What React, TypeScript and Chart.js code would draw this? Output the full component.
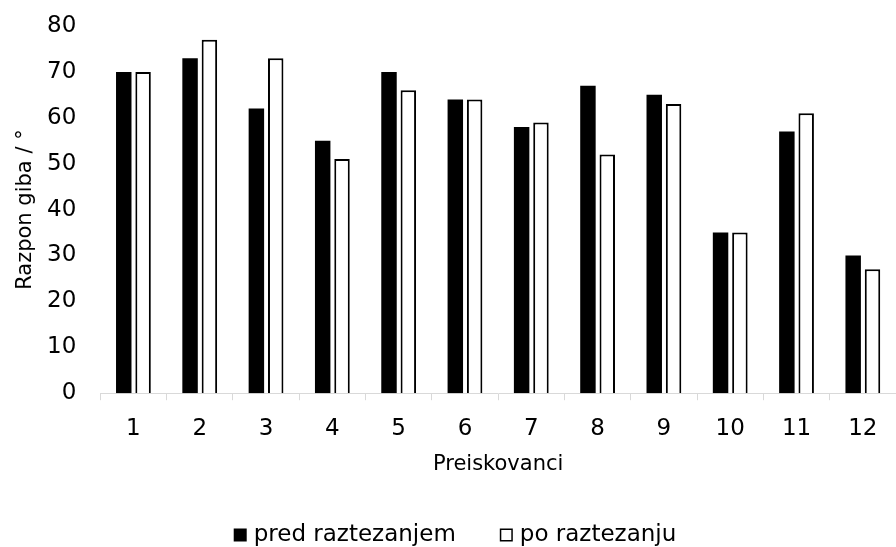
import React, { useEffect, useRef } from "react";
import { Chart, registerables } from "chart.js";

Chart.register(...registerables);

const categories = ["1", "2", "3", "4", "5", "6", "7", "8", "9", "10", "11", "12"];
const predValues = [70, 73, 62, 55, 70, 64, 58, 67, 65, 35, 57, 30];
const poValues = [70, 77, 73, 51, 66, 64, 59, 52, 63, 35, 61, 27];
const seriesNames = ["pred raztezanjem", "po raztezanju"];
const yTitle = "Razpon giba / °";
const xTitle = "Preiskovanci";

const FONT = "'DejaVu Sans', Verdana, sans-serif";

const bottomLegend = {
  id: "bottomLegend",
  afterDraw(chart: any) {
    const ctx = chart.ctx as CanvasRenderingContext2D;
    const datasets = chart.data.datasets;
    ctx.save();
    ctx.font = `23px ${FONT}`;
    ctx.textBaseline = "middle";
    ctx.textAlign = "left";
    const box = 13;
    const textGap = 7;
    const itemGap = 44;
    const widths = datasets.map((d: any) => box + textGap + ctx.measureText(d.label).width);
    const total = widths.reduce((a: number, b: number) => a + b, 0) + itemGap * (datasets.length - 1);
    const cy = chart.height - 12;
    let x = chart.width / 2 + 7 - total / 2;
    datasets.forEach((d: any, i: number) => {
      const bw = d.borderWidth || 0;
      ctx.fillStyle = d.backgroundColor;
      ctx.fillRect(x, cy - box / 2, box, box);
      if (bw > 0) {
        ctx.strokeStyle = d.borderColor;
        ctx.lineWidth = 1.5;
        ctx.strokeRect(x + 0.75, cy - box / 2 + 0.75, box - 1.5, box - 1.5);
      }
      ctx.fillStyle = "#000";
      ctx.fillText(d.label, x + box + textGap, cy);
      x += widths[i] + itemGap;
    });
    ctx.restore();
  },
};

export default function App() {
  const ref = useRef<HTMLCanvasElement | null>(null);
  useEffect(() => {
    document.body.style.margin = "0";
    if (!ref.current) return;
    const chart = new Chart(ref.current, {
      type: "bar",
      data: {
        labels: categories,
        datasets: [
          {
            label: seriesNames[0],
            data: predValues,
            backgroundColor: "#000000",
            borderColor: "#000000",
            borderWidth: 0,
            barPercentage: 0.8,
            categoryPercentage: 0.583,
          },
          {
            label: seriesNames[1],
            data: poValues,
            backgroundColor: "#ffffff",
            borderColor: "#000000",
            borderWidth: 2,
            barPercentage: 0.8,
            categoryPercentage: 0.583,
          },
        ],
      },
      plugins: [bottomLegend],
      options: {
        animation: false,
        responsive: false,
        maintainAspectRatio: false,
        layout: { padding: { left: 0, right: -7, top: 26, bottom: 70 } },
        plugins: {
          tooltip: { enabled: false },
          legend: { display: false },
        },
        scales: {
          x: {
            afterFit(scale: any) {
              scale.paddingLeft = 0;
              scale.paddingRight = -7;
            },
            grid: {
              display: true,
              drawOnChartArea: false,
              drawTicks: true,
              tickLength: 7,
              color: "#d9d9d9",
              offset: true,
            },
            border: { display: true, color: "#d9d9d9", width: 1 },
            ticks: { color: "#000", font: { family: FONT, size: 23 }, padding: 15 },
            title: {
              display: true,
              text: xTitle,
              color: "#000",
              font: { family: FONT, size: 21 },
              padding: { top: -6, bottom: 0 },
            },
          },
          y: {
            min: 0,
            max: 80,
            afterFit(scale: any) {
              scale.paddingTop = 0;
              scale.paddingBottom = 0;
              scale.paddingLeft = 0;
              scale.paddingRight = -7;
            },
            ticks: { stepSize: 10, color: "#000", font: { family: FONT, size: 23 }, padding: 24 },
            grid: { display: false, drawTicks: false, tickLength: 0 },
            border: { display: false },
            title: {
              display: true,
              text: yTitle,
              color: "#000",
              font: { family: FONT, size: 21 },
              padding: { top: 13.4, bottom: -15.6 },
            },
          },
        },
      },
    });
    return () => chart.destroy();
  }, []);
  return (
    <div style={{ width: 896, height: 547 }}>
      <canvas ref={ref} width={896} height={547} style={{ display: "block" }} />
    </div>
  );
}
